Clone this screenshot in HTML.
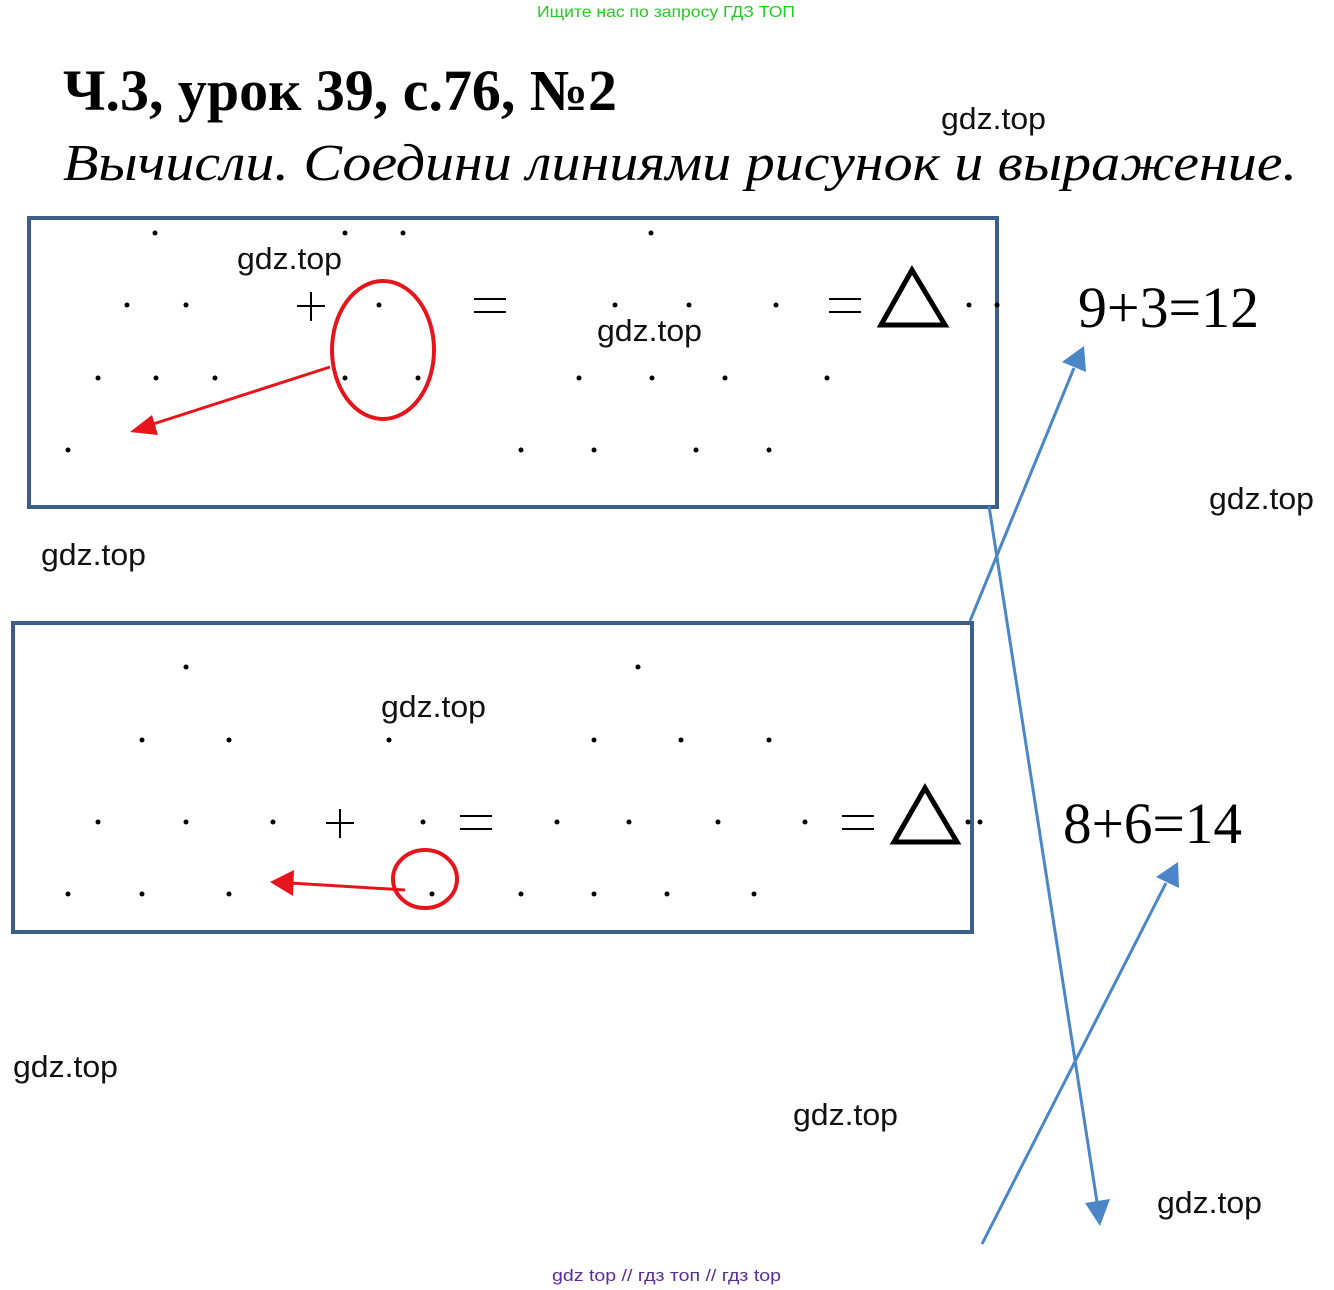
<!DOCTYPE html>
<html><head><meta charset="utf-8"><style>
html,body{margin:0;padding:0;background:#fff;}
svg{display:block}
</style></head><body>
<svg width="1334" height="1290" viewBox="0 0 1334 1290" xmlns="http://www.w3.org/2000/svg">
<rect width="1334" height="1290" fill="#fff"/>
<text x="537" y="17" font-family="Liberation Sans, sans-serif" font-size="16" fill="#22cc22" textLength="258" lengthAdjust="spacingAndGlyphs">Ищите нас по запросу ГДЗ ТОП</text>
<text x="63" y="110" font-family="Liberation Serif, serif" font-weight="bold" font-size="58" textLength="554" lengthAdjust="spacingAndGlyphs">Ч.3, урок 39, с.76, №2</text>
<text x="63" y="180" font-family="Liberation Serif, serif" font-style="italic" font-size="52" textLength="1234" lengthAdjust="spacingAndGlyphs">Вычисли. Соедини линиями рисунок и выражение.</text>

<g font-family="Liberation Sans, sans-serif" font-size="31" fill="#111">
<text x="941" y="129" textLength="105" lengthAdjust="spacingAndGlyphs">gdz.top</text>
<text x="237" y="269" textLength="105" lengthAdjust="spacingAndGlyphs">gdz.top</text>
<text x="597" y="341" textLength="105" lengthAdjust="spacingAndGlyphs">gdz.top</text>
<text x="1209" y="509" textLength="105" lengthAdjust="spacingAndGlyphs">gdz.top</text>
<text x="41" y="565" textLength="105" lengthAdjust="spacingAndGlyphs">gdz.top</text>
<text x="381" y="717" textLength="105" lengthAdjust="spacingAndGlyphs">gdz.top</text>
<text x="13" y="1077" textLength="105" lengthAdjust="spacingAndGlyphs">gdz.top</text>
<text x="793" y="1125" textLength="105" lengthAdjust="spacingAndGlyphs">gdz.top</text>
<text x="1157" y="1213" textLength="105" lengthAdjust="spacingAndGlyphs">gdz.top</text>
</g>

<rect x="29" y="218" width="968" height="289" fill="none" stroke="#3a5f8c" stroke-width="4"/>
<rect x="13" y="623" width="959" height="309" fill="none" stroke="#3a5f8c" stroke-width="4"/>

<g fill="#000">
<circle cx="155" cy="233" r="2.5"/><circle cx="345" cy="233" r="2.5"/><circle cx="403" cy="233" r="2.5"/><circle cx="651" cy="233" r="2.5"/>
<circle cx="127" cy="305" r="2.5"/><circle cx="186" cy="305" r="2.5"/><circle cx="379" cy="305" r="2.5"/><circle cx="615" cy="305" r="2.5"/><circle cx="689" cy="305" r="2.5"/><circle cx="776" cy="305" r="2.5"/><circle cx="969" cy="305" r="2.5"/><circle cx="997" cy="305" r="2.5"/>
<circle cx="98" cy="378" r="2.5"/><circle cx="156" cy="378" r="2.5"/><circle cx="215" cy="378" r="2.5"/><circle cx="345" cy="378" r="2.5"/><circle cx="418" cy="378" r="2.5"/><circle cx="579" cy="378" r="2.5"/><circle cx="652" cy="378" r="2.5"/><circle cx="725" cy="378" r="2.5"/><circle cx="827" cy="378" r="2.5"/>
<circle cx="68" cy="450" r="2.5"/><circle cx="521" cy="450" r="2.5"/><circle cx="594" cy="450" r="2.5"/><circle cx="696" cy="450" r="2.5"/><circle cx="769" cy="450" r="2.5"/>

<circle cx="186" cy="667" r="2.5"/><circle cx="638" cy="667" r="2.5"/>
<circle cx="142" cy="740" r="2.5"/><circle cx="229" cy="740" r="2.5"/><circle cx="389" cy="740" r="2.5"/><circle cx="594" cy="740" r="2.5"/><circle cx="681" cy="740" r="2.5"/><circle cx="769" cy="740" r="2.5"/>
<circle cx="98" cy="822" r="2.5"/><circle cx="186" cy="822" r="2.5"/><circle cx="273" cy="822" r="2.5"/><circle cx="423" cy="822" r="2.5"/><circle cx="557" cy="822" r="2.5"/><circle cx="629" cy="822" r="2.5"/><circle cx="718" cy="822" r="2.5"/><circle cx="805" cy="822" r="2.5"/><circle cx="968" cy="822" r="2.5"/><circle cx="980" cy="822" r="2.5"/>
<circle cx="68" cy="894" r="2.5"/><circle cx="142" cy="894" r="2.5"/><circle cx="229" cy="894" r="2.5"/><circle cx="432" cy="894" r="2.5"/><circle cx="521" cy="894" r="2.5"/><circle cx="594" cy="894" r="2.5"/><circle cx="667" cy="894" r="2.5"/><circle cx="754" cy="894" r="2.5"/>
</g>

<g stroke="#000" stroke-width="2" fill="none">
<path d="M297,306 H325 M311,292 V321"/>
<path d="M474,299 H506 M474,312 H506"/>
<path d="M829,299 H861 M829,312 H861"/>
<path d="M326,823 H354 M340,809 V838"/>
<path d="M460,816 H492 M460,829 H492"/>
<path d="M842,816 H874 M842,829 H874"/>
</g>
<path d="M912,270 L945,325 L881,325 Z" fill="none" stroke="#000" stroke-width="5"/>
<path d="M925,788 L957,842 L894,842 Z" fill="none" stroke="#000" stroke-width="5"/>

<ellipse cx="383" cy="350" rx="51" ry="69" fill="none" stroke="#e8141b" stroke-width="4"/>
<line x1="330" y1="367" x2="150" y2="425" stroke="#e8141b" stroke-width="3"/>
<path d="M130,432 L152,415 L158,435 Z" fill="#e8141b"/>
<ellipse cx="425" cy="879" rx="32" ry="29" fill="none" stroke="#e8141b" stroke-width="4"/>
<line x1="405" y1="890" x2="290" y2="883" stroke="#e8141b" stroke-width="3"/>
<path d="M270,882 L294,870 L293,896 Z" fill="#e8141b"/>

<g stroke="#4a86c8" stroke-width="3" fill="#4a86c8">
<line x1="970" y1="621" x2="1074" y2="368"/>
<path d="M1084,346 L1086,372 L1062,362 Z" stroke="none"/>
<line x1="989" y1="506" x2="1097" y2="1202"/>
<path d="M1100,1226 L1085,1203 L1110,1199 Z" stroke="none"/>
<line x1="982" y1="1244" x2="1166" y2="883"/>
<path d="M1178,862 L1179,888 L1156,877 Z" stroke="none"/>
</g>

<text x="1078" y="327" font-family="Liberation Serif, serif" font-size="58" textLength="181" lengthAdjust="spacingAndGlyphs">9+3=12</text>
<text x="1063" y="843" font-family="Liberation Serif, serif" font-size="58" textLength="179" lengthAdjust="spacingAndGlyphs">8+6=14</text>

<text x="552" y="1281" font-family="Liberation Sans, sans-serif" font-size="17" fill="#5a2a9a" textLength="229" lengthAdjust="spacingAndGlyphs">gdz top  //  гдз топ  //  гдз top</text>
</svg>
</body></html>
